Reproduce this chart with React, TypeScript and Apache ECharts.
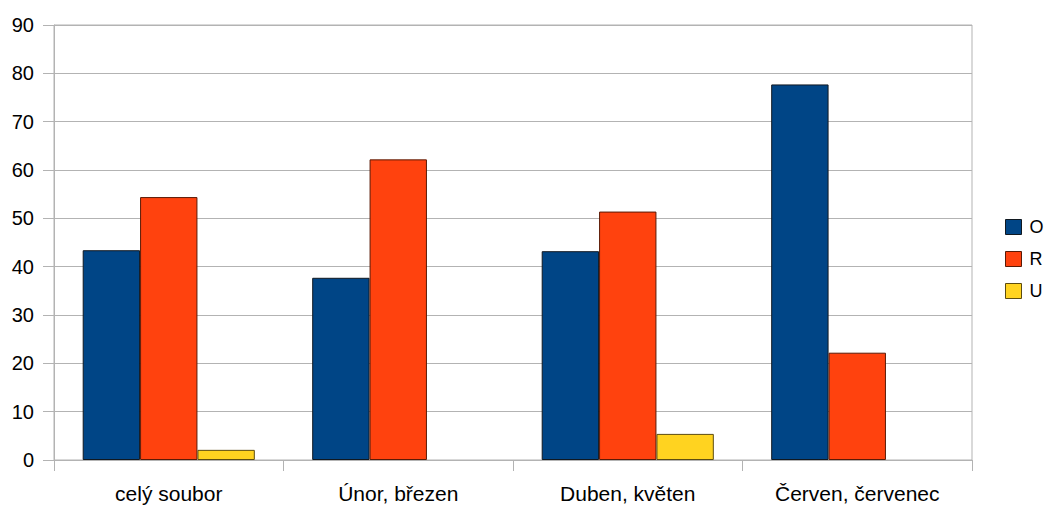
import React, { useEffect, useRef } from "react";
import * as echarts from "echarts";

const categories = ["celý soubor", "Únor, březen", "Duben, květen", "Červen, červenec"];
const seriesNames = ["O", "R", "U"];
const valuesO = [43.4, 37.7, 43.2, 77.7];
const valuesR = [54.4, 62.2, 51.4, 22.2];
const valuesU: (number | null)[] = [2.1, null, 5.4, null];
const yTicks = [0, 10, 20, 30, 40, 50, 60, 70, 80, 90];

const fills = ["#004586", "#ff420e", "#ffd320"];
const borders = ["#101820", "#5a1a06", "#5c4c10"];
const font = "'Liberation Sans', Arial, sans-serif";

export default function App() {
  const ref = useRef<HTMLDivElement>(null);

  useEffect(() => {
    if (!ref.current) return;
    const chart = echarts.init(ref.current, null, { renderer: "svg" });
    const data = [valuesO, valuesR, valuesU];
    chart.setOption({
      animation: false,
      backgroundColor: "#ffffff",
      grid: {
        left: 54,
        right: 75,
        top: 25,
        bottom: 45,
        show: true,
        borderColor: "#b3b3b3",
        borderWidth: 1,
        containLabel: false,
      },
      legend: {
        orient: "vertical",
        left: 1005,
        top: 218,
        padding: 0,
        itemWidth: 16,
        itemHeight: 15,
        itemGap: 14,
        data: seriesNames.map((name, i) => ({
          name,
          icon: "rect",
          itemStyle: { color: fills[i], borderColor: borders[i], borderWidth: 1 },
        })),
        textStyle: { fontFamily: font, fontSize: 18, color: "#000", padding: [0, 0, 0, 3] },
      },
      xAxis: {
        type: "category",
        data: categories,
        axisLine: { show: true, lineStyle: { color: "#b3b3b3", width: 1 } },
        axisTick: { show: true, length: 11, lineStyle: { color: "#b3b3b3" } },
        axisLabel: { fontFamily: font, fontSize: 21, color: "#000", margin: 23 },
        splitLine: { show: false },
      },
      yAxis: {
        type: "value",
        min: yTicks[0],
        max: yTicks[yTicks.length - 1],
        interval: 10,
        axisLine: { show: true, lineStyle: { color: "#b3b3b3", width: 1 } },
        axisTick: { show: true, length: 11, lineStyle: { color: "#b3b3b3" } },
        axisLabel: { fontFamily: font, fontSize: 20, color: "#000", margin: 20 },
        splitLine: { show: true, lineStyle: { color: "#b3b3b3", width: 1 } },
      },
      series: seriesNames.map((name, i) => ({
        name,
        type: "bar",
        data: data[i],
        barGap: "0%",
        barCategoryGap: "25%",
        itemStyle: { color: fills[i], borderColor: borders[i], borderWidth: 1 },
      })),
    });
    return () => chart.dispose();
  }, []);

  return (
    <div
      ref={ref}
      style={{ position: "fixed", left: 0, top: 0, width: 1047, height: 505, background: "#fff" }}
    />
  );
}
